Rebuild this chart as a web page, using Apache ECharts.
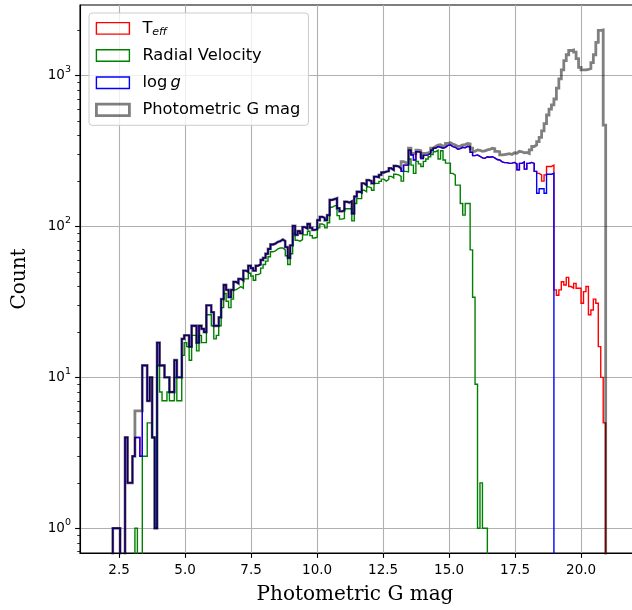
<!DOCTYPE html>
<html>
<head>
<meta charset="utf-8">
<title>Photometric G mag histogram</title>
<script src="https://cdn.jsdelivr.net/npm/echarts@6.0.0/dist/echarts.min.js"></script>
<style>
  html, body { margin: 0; padding: 0; background: #ffffff; }
  #chartDom { width: 632px; height: 610px; }
</style>
</head>
<body>
<div id="chartDom"></div>
<script>
// 200 bins between the brightest and faintest G mag
const binLo = 2.26;
const binHi = 20.93;
const binCount = 200;

// Photometric G mag counts per bin
const gmagCounts = [
  1, 1, 1, 0, 0, 4, 2, 2, 3, 6,
  6, 6, 12, 12, 7, 10, 4, 1, 17, 12,
  12, 10, 10, 8, 8, 13, 10, 10, 18, 19,
  19, 16, 22, 22, 17, 22, 21, 20, 30, 30,
  27, 22, 22, 25, 33, 41, 38, 34, 38, 43,
  42, 45, 44, 51, 50, 55, 53, 51, 55, 56,
  60, 62, 66, 71, 76, 77, 79, 80, 82, 80,
  73, 62, 75, 101, 88, 93, 90, 99, 97, 104,
  98, 95, 96, 110, 116, 114, 110, 119, 150, 152,
  154, 132, 126, 128, 146, 144, 147, 122, 158, 170,
  168, 193, 188, 203, 200, 193, 214, 212, 220, 228,
  231, 233, 243, 237, 252, 250, 243, 269, 265, 262,
  330, 305, 305, 321, 318, 290, 305, 308, 313, 330,
  339, 347, 349, 341, 345, 356, 359, 352, 347, 339,
  341, 347, 349, 355, 353, 330, 315, 322, 320, 315,
  317, 322, 324, 330, 328, 315, 313, 298, 300, 302,
  304, 300, 308, 306, 315, 313, 308, 310, 305, 322,
  339, 347, 365, 390, 430, 480, 548, 600, 640, 700,
  825, 950, 1090, 1255, 1375, 1467, 1480, 1430, 1295, 1133,
  1090, 1090, 1100, 1115, 1220, 1375, 1660, 1995, 2010, 470
];

// log g counts per bin
const loggCounts = [
  1, 1, 1, 0, 0, 4, 2, 2, 3, 4,
  4, 3, 12, 12, 7, 10, 4, 1, 17, 12,
  12, 10, 10, 8, 8, 13, 10, 10, 18, 19,
  19, 16, 22, 22, 17, 22, 21, 20, 30, 30,
  27, 22, 22, 25, 33, 41, 38, 34, 38, 43,
  42, 45, 44, 51, 50, 55, 53, 51, 55, 56,
  60, 62, 66, 71, 76, 77, 79, 80, 82, 80,
  73, 62, 75, 101, 88, 93, 90, 99, 97, 104,
  98, 95, 96, 110, 116, 114, 110, 119, 150, 152,
  154, 132, 126, 128, 146, 144, 147, 122, 158, 170,
  168, 193, 188, 203, 200, 193, 214, 212, 220, 228,
  231, 233, 243, 237, 252, 250, 243, 232, 255, 255,
  320, 298, 276, 313, 310, 282, 296, 298, 305, 320,
  330, 338, 335, 330, 335, 345, 347, 338, 335, 325,
  328, 335, 333, 340, 338, 310, 295, 298, 292, 285,
  283, 290, 288, 290, 285, 278, 276, 268, 265, 265,
  262, 263, 266, 260, 238, 262, 268, 240, 262, 266,
  262, 232, 166, 178, 178, 166, 222, 222, 225, 0,
  0, 0, 0, 0, 0, 0, 0, 0, 0, 0,
  0, 0, 0, 0, 0, 0, 0, 0, 0, 0
];

// Teff counts per bin
const teffCounts = [
  1, 1, 1, 0, 0, 4, 2, 2, 3, 4,
  4, 3, 12, 12, 7, 10, 4, 1, 17, 12,
  12, 10, 10, 8, 8, 13, 10, 10, 18, 19,
  19, 16, 22, 22, 17, 22, 21, 20, 30, 30,
  27, 22, 22, 25, 33, 41, 38, 34, 38, 43,
  42, 45, 44, 51, 50, 55, 53, 51, 55, 56,
  60, 62, 66, 71, 76, 77, 79, 80, 82, 80,
  73, 62, 75, 101, 88, 93, 90, 99, 97, 104,
  98, 95, 96, 110, 116, 114, 110, 119, 150, 152,
  154, 132, 126, 128, 146, 144, 147, 122, 158, 170,
  168, 193, 188, 203, 200, 193, 214, 212, 220, 228,
  231, 233, 243, 237, 252, 250, 243, 232, 255, 255,
  320, 298, 276, 313, 310, 282, 296, 298, 305, 320,
  330, 338, 335, 330, 335, 345, 347, 338, 335, 325,
  328, 335, 333, 340, 338, 310, 295, 298, 292, 285,
  283, 290, 288, 290, 285, 278, 276, 268, 265, 265,
  262, 263, 266, 260, 238, 262, 268, 240, 262, 266,
  262, 232, 225, 220, 200, 220, 250, 250, 255, 38,
  35, 38, 43, 41, 46, 40, 39, 42, 39, 39,
  31, 37, 40, 26, 28, 33, 31, 16, 10, 5
];

// Radial Velocity counts per bin
const rvCounts = [
  0, 0, 0, 0, 0, 0, 0, 0, 0, 1,
  0, 0, 3, 3, 5, 5, 4, 1, 12, 8,
  7, 7, 8, 7, 7, 10, 7, 7, 14, 17,
  16, 13, 19, 19, 15, 19, 17, 17, 26, 26,
  22, 18, 19, 22, 29, 36, 32, 29, 33, 38,
  39, 40, 39, 45, 45, 49, 47, 44, 48, 49,
  53, 56, 59, 63, 68, 69, 71, 72, 72, 70,
  64, 56, 66, 90, 81, 80, 82, 88, 88, 93,
  87, 84, 85, 98, 104, 102, 98, 106, 134, 137,
  138, 118, 112, 113, 131, 131, 131, 109, 142, 153,
  153, 174, 170, 183, 180, 174, 193, 193, 199, 206,
  200, 205, 215, 210, 222, 220, 215, 200, 232, 230,
  280, 255, 225, 270, 260, 250, 270, 280, 290, 300,
  313, 320, 280, 318, 276, 263, 263, 225, 219, 188,
  188, 142, 119, 142, 142, 70, 34, 9, 1, 2,
  1, 1, 0, 0, 0, 0, 0, 0, 0, 0,
  0, 0, 0, 0, 0, 0, 0, 0, 0, 0,
  0, 0, 0, 0, 0, 0, 0, 0, 0, 0,
  0, 0, 0, 0, 0, 0, 0, 0, 0, 0,
  0, 0, 0, 0, 0, 0, 0, 0, 0, 0
];

const xTicks = [2.5, 5.0, 7.5, 10.0, 12.5, 15.0, 17.5, 20.0];
const yTicks = [1, 10, 100, 1000];
const yMinorTicks = [0.7, 0.8, 0.9, 2, 3, 4, 5, 6, 7, 8, 9, 20, 30, 40, 50, 60, 70, 80, 90,
  200, 300, 400, 500, 600, 700, 800, 900, 2000];

// empty bins sit below the log axis and get clipped
const FLOOR = 0.1;

const edges = [];
for (let i = 0; i <= binCount; i++) {
  edges.push(binLo + (binHi - binLo) * i / binCount);
}

// outline of a step histogram, like histtype="step"
function stepData(counts) {
  const pts = [[edges[0], FLOOR]];
  counts.forEach((c, i) => pts.push([edges[i], c > 0 ? c : FLOOR]));
  const last = counts[counts.length - 1];
  pts.push([edges[binCount], last > 0 ? last : FLOOR]);
  pts.push([edges[binCount], FLOOR]);
  return pts;
}

function histSeries(name, counts, color, width) {
  return {
    name: name,
    type: "line",
    step: "end",
    data: stepData(counts),
    symbol: "none",
    clip: true,
    silent: true,
    animation: false,
    itemStyle: { color: color },
    lineStyle: { color: color, width: width, join: "miter", cap: "butt" },
  };
}

const myChart = echarts.init(document.getElementById("chartDom"), null, { renderer: "canvas" });

myChart.setOption({
  backgroundColor: "#ffffff",
  animation: false,
  textStyle: { fontFamily: "DejaVu Sans", color: "#000" },
  grid: {
    // the right spine falls just outside the picture
    left: 80,
    top: 5,
    width: 560,
    height: 548,
    show: true,
    borderColor: "#000",
    borderWidth: 1.1,
    backgroundColor: "transparent",
    containLabel: false,
    outerBoundsMode: "none",
  },
  legend: {
    orient: "vertical",
    left: 89,
    top: 13,
    padding: [6, 8, 6, 6],
    itemWidth: 33,
    itemHeight: 11.5,
    itemGap: 8.5,
    selectedMode: false,
    backgroundColor: "rgba(255,255,255,0.8)",
    borderColor: "#cccccc",
    borderWidth: 1,
    borderRadius: 3,
    textStyle: {
      fontFamily: "DejaVu Sans",
      fontSize: 16.3,
      lineHeight: 18.7,
      color: "#000",
      padding: [0, 0, 0, 8],
      rich: {
        t: { fontFamily: "DejaVu Sans", fontSize: 16.3, lineHeight: 18.7, color: "#000", verticalAlign: "middle" },
        s: { fontFamily: "DejaVu Sans", fontSize: 11, fontStyle: "italic", lineHeight: 12, color: "#000", verticalAlign: "bottom" },
        i: { fontFamily: "DejaVu Sans", fontSize: 16.3, fontStyle: "italic", lineHeight: 18.7, color: "#000", verticalAlign: "middle" },
      },
    },
    formatter: function (name) {
      if (name === "Teff") return "{t|T}{s|eff}";
      if (name === "log g") return "{t|log\u2009}{i|g}";
      return name;
    },
    data: [
      { name: "Teff", icon: "rect", itemStyle: { color: "rgba(255,255,255,0)", borderColor: "#ff0000", borderWidth: 1.4 } },
      { name: "Radial Velocity", icon: "rect", itemStyle: { color: "rgba(255,255,255,0)", borderColor: "#008000", borderWidth: 1.4 } },
      { name: "log g", icon: "rect", itemStyle: { color: "rgba(255,255,255,0)", borderColor: "#0000ff", borderWidth: 1.4 } },
      { name: "Photometric G mag", icon: "rect", itemStyle: { color: "rgba(255,255,255,0)", borderColor: "rgba(0,0,0,0.5)", borderWidth: 2.8 } },
    ],
  },
  xAxis: {
    type: "value",
    min: 1.02,
    max: 22.23,
    name: "Photometric G mag",
    nameLocation: "middle",
    nameGap: 32,
    nameTextStyle: { fontFamily: "DejaVu Serif", fontSize: 20, color: "#000", padding: [0, 10, 0, 0] },
    axisLine: { show: true, onZero: false, lineStyle: { color: "#000", width: 1.1 } },
    axisTick: { show: true, length: 4.9, customValues: xTicks, lineStyle: { color: "#000", width: 1.1 } },
    axisLabel: {
      customValues: xTicks,
      margin: 10,
      fontFamily: "DejaVu Sans",
      fontSize: 13.5,
      color: "#000",
      formatter: (v) => v.toFixed(1),
    },
    splitLine: { show: true, lineStyle: { color: "#b0b0b0", width: 1.1 } },
  },
  yAxis: [
    {
      type: "log",
      logBase: 10,
      min: 0.686,
      max: 2937,
      name: "Count",
      nameLocation: "middle",
      nameGap: 50,
      nameRotate: 90,
      nameTextStyle: { fontFamily: "DejaVu Serif", fontSize: 20, color: "#000" },
      axisLine: { show: true, onZero: false, lineStyle: { color: "#000", width: 1.1 } },
      axisTick: { show: true, length: 4.9, customValues: yTicks, lineStyle: { color: "#000", width: 1.1 } },
      axisLabel: {
        customValues: yTicks,
        margin: 9,
        color: "#000",
        formatter: (v) => "{b|10}{p|" + Math.round(Math.log10(v)) + "}",
        rich: {
          b: { fontFamily: "DejaVu Sans", fontSize: 13.5, lineHeight: 22, color: "#000", verticalAlign: "middle" },
          p: { fontFamily: "DejaVu Sans", fontSize: 9.5, lineHeight: 10, color: "#000", verticalAlign: "top" },
        },
      },
      splitLine: { show: true, lineStyle: { color: "#b0b0b0", width: 1.1 } },
    },
    {
      // minor ticks of the log axis
      type: "log",
      logBase: 10,
      min: 0.686,
      max: 2937,
      position: "left",
      axisLine: { show: false, onZero: false },
      axisTick: { show: true, length: 2.8, customValues: yMinorTicks, lineStyle: { color: "#000", width: 0.8 } },
      axisLabel: { show: false },
      splitLine: { show: false },
    },
  ],
  series: [
    histSeries("Teff", teffCounts, "#ff0000", 1.4),
    histSeries("Radial Velocity", rvCounts, "#008000", 1.4),
    histSeries("log g", loggCounts, "#0000ff", 1.4),
    histSeries("Photometric G mag", gmagCounts, "rgba(0,0,0,0.5)", 2.8),
  ],
});
</script>
</body>
</html>
